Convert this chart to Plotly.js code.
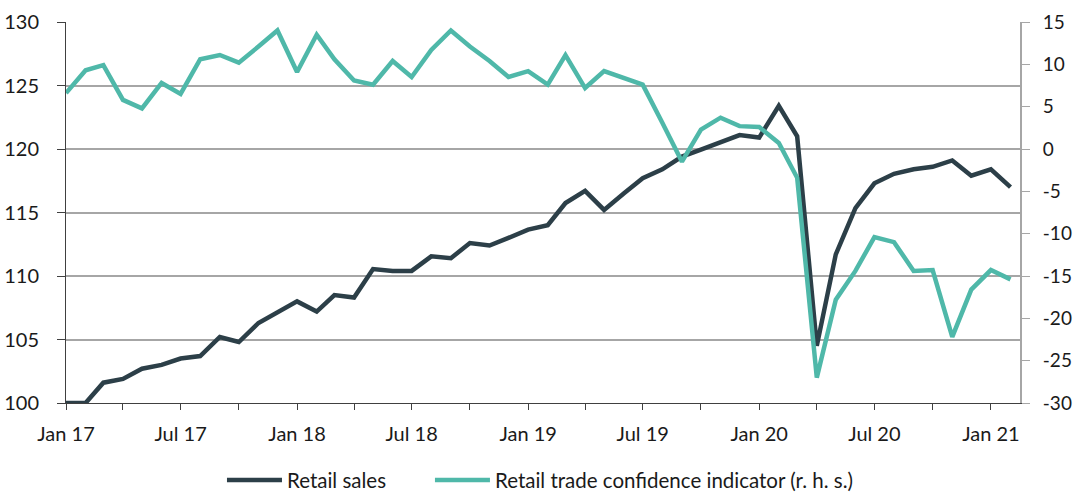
<!DOCTYPE html>
<html>
<head>
<meta charset="utf-8">
<script src="https://cdn.plot.ly/plotly-3.0.1.min.js"></script>
<style>html,body{margin:0;padding:0;background:#fff;}#chart{width:1075px;height:493px;}</style>
</head>
<body>
<div id="chart"></div>
<script>
const months = [
  "2017-01-01","2017-02-01","2017-03-01","2017-04-01","2017-05-01","2017-06-01",
  "2017-07-01","2017-08-01","2017-09-01","2017-10-01","2017-11-01","2017-12-01",
  "2018-01-01","2018-02-01","2018-03-01","2018-04-01","2018-05-01","2018-06-01",
  "2018-07-01","2018-08-01","2018-09-01","2018-10-01","2018-11-01","2018-12-01",
  "2019-01-01","2019-02-01","2019-03-01","2019-04-01","2019-05-01","2019-06-01",
  "2019-07-01","2019-08-01","2019-09-01","2019-10-01","2019-11-01","2019-12-01",
  "2020-01-01","2020-02-01","2020-03-01","2020-04-01","2020-05-01","2020-06-01",
  "2020-07-01","2020-08-01","2020-09-01","2020-10-01","2020-11-01","2020-12-01",
  "2021-01-01","2021-02-01"
];
const retailSales = [
  100.0,100.0,101.6,101.9,102.7,103.0,103.5,103.7,105.2,104.8,106.3,107.1,
  108.0,107.2,108.5,108.3,110.55,110.4,110.4,111.55,111.4,112.6,112.4,113.0,
  113.65,114.0,115.75,116.7,115.2,116.5,117.7,118.4,119.4,119.95,120.5,121.1,
  120.9,123.4,121.0,104.5,111.7,115.35,117.3,118.05,118.4,118.6,119.1,117.9,
  118.4,117.0
];
const confidence = [
  6.6,9.3,9.9,5.8,4.8,7.8,6.5,10.6,11.1,10.2,12.1,14.0,
  9.1,13.5,10.6,8.1,7.6,10.4,8.5,11.7,14.0,12.1,10.4,8.5,
  9.2,7.6,11.1,7.2,9.2,8.4,7.6,3.1,-1.5,2.3,3.7,2.7,
  2.6,0.7,-3.4,-27.0,-17.8,-14.4,-10.4,-11.0,-14.4,-14.3,-22.2,-16.6,
  -14.3,-15.4
];
const seriesNames = ["Retail sales","Retail trade confidence indicator (r. h. s.)"];
const rhsTickVals = [-30,-25,-20,-15,-10,-5,0,5,10,15];
const rhsTickText = ["-30","-25","-20","-15","-10","-5","0","5","10","15"];

const FONT = "Lato, PT Sans, Open Sans, sans-serif";
const legendBase = {orientation: "h", xanchor: "left", xref: "paper",
  y: 0.026, yref: "container", yanchor: "middle",
  font: {family: FONT, size: 20.5, color: "#1a1a1a"}, itemwidth: 55, bgcolor: "rgba(0,0,0,0)"};
const traces = [
  {x: months, y: retailSales, name: seriesNames[0], type: "scatter", mode: "lines",
   line: {color: "#2c3f48", width: 4.5}, yaxis: "y", legend: "legend"},
  {x: months, y: confidence, name: seriesNames[1], type: "scatter", mode: "lines",
   line: {color: "#4fb8a9", width: 4.5}, yaxis: "y2", legend: "legend2"}
];
const layout = {
  width: 1075, height: 493,
  margin: {l: 66, r: 55, t: 22, b: 90},
  paper_bgcolor: "#fff", plot_bgcolor: "#fff",
  font: {family: FONT, size: 19, color: "#1a1a1a"},
  showlegend: true,
  legend: Object.assign({}, legendBase, {x: 0.1635}),
  legend2: Object.assign({}, legendBase, {x: 0.3815}),
  xaxis: {
    type: "date", range: ["2017-01-01", "2021-02-16"],
    tick0: "2017-01-01", dtick: "M6", tickformat: "%b %y",
    ticks: "outside", ticklen: 6, tickcolor: "#404040", tickwidth: 1,
    showline: true, linecolor: "#404040", linewidth: 1,
    showgrid: false, zeroline: false, ticklabelstandoff: 7,
    minor: {dtick: "M3", tick0: "2017-01-01", ticks: "outside", ticklen: 6, tickcolor: "#404040", showgrid: false},
    tickfont: {family: FONT, size: 20, color: "#1a1a1a"}
  },
  yaxis: {
    range: [100, 130], dtick: 5, tick0: 100,
    ticks: "outside", ticklen: 8, tickcolor: "#404040",
    showline: true, linecolor: "#404040", linewidth: 1,
    showgrid: true, gridcolor: "#a6a6a6", gridwidth: 2, zeroline: false,
    ticklabelstandoff: 14,
    tickfont: {family: FONT, size: 20, color: "#1a1a1a"}
  },
  yaxis2: {
    range: [-30, 15], tickmode: "array", tickvals: rhsTickVals, ticktext: rhsTickText,
    overlaying: "y", side: "right",
    ticks: "outside", ticklen: 8, tickcolor: "#a6a6a6",
    showline: true, linecolor: "#a6a6a6", linewidth: 2,
    showgrid: false, zeroline: false, ticklabelstandoff: 9,
    tickfont: {family: FONT, size: 19, color: "#1a1a1a"}
  }
};
Plotly.newPlot("chart", traces, layout, {displayModeBar: false, staticPlot: true});
</script>
</body>
</html>
